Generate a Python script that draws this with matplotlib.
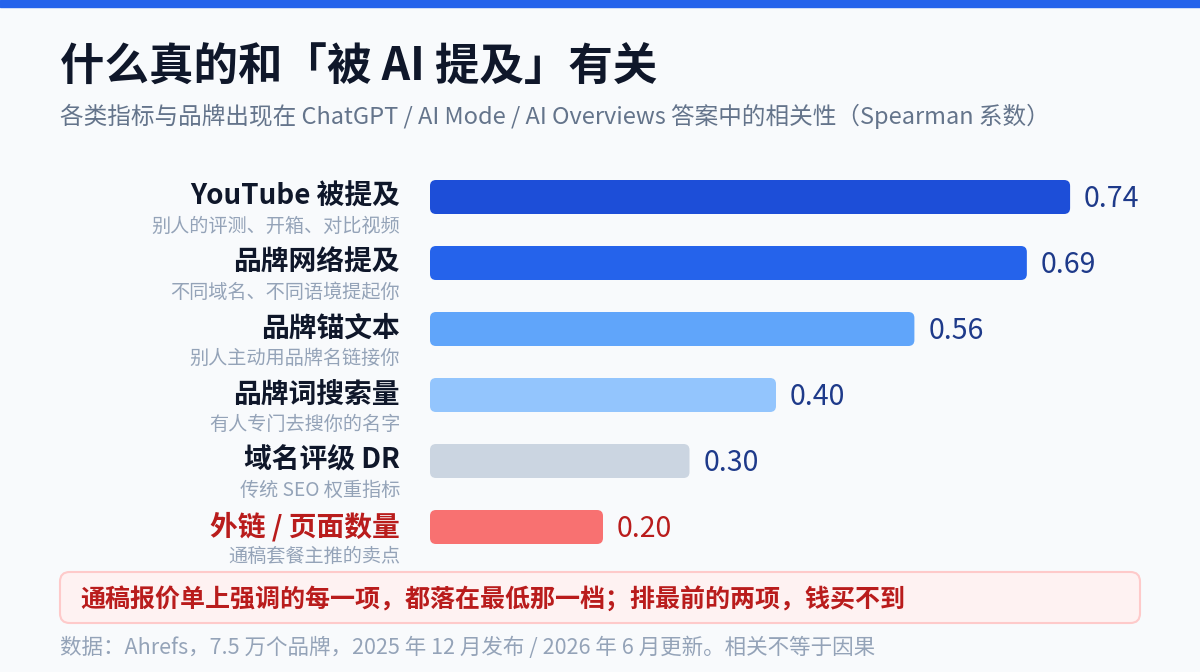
import matplotlib
matplotlib.use("Agg")
import matplotlib.pyplot as plt
from matplotlib.patches import FancyBboxPatch, Rectangle
from matplotlib.transforms import offset_copy

plt.rcParams['font.family'] = ['Noto Sans CJK SC', 'DejaVu Sans']

# data
labels = ["YouTube 被提及", "品牌网络提及", "品牌锚文本", "品牌词搜索量", "域名评级 DR", "外链 / 页面数量"]
notes = ["别人的评测、开箱、对比视频", "不同域名、不同语境提起你", "别人主动用品牌名链接你",
         "有人专门去搜你的名字", "传统 SEO 权重指标", "通稿套餐主推的卖点"]
values = [0.74, 0.69, 0.56, 0.40, 0.30, 0.20]
colors = ["#1d4ed8", "#2563eb", "#60a5fa", "#93c5fd", "#cbd5e1", "#f87171"]

title = "什么真的和「被 AI 提及」有关"
subtitle = "各类指标与品牌出现在 ChatGPT / AI Mode / AI Overviews 答案中的相关性（Spearman 系数）"
callout = "通稿报价单上强调的每一项，都落在最低那一档；排最前的两项，钱买不到"
footer = "数据：Ahrefs，7.5 万个品牌，2025 年 12 月发布 / 2026 年 6 月更新。相关不等于因果"

W, H = 1200, 672
bg = "#f8fafc"
fig = plt.figure(figsize=(W / 100, H / 100), dpi=100, facecolor=bg)

# top stripe
fig.patches.append(Rectangle((0, 1 - 7 / H), 1, 7 / H, transform=fig.transFigure,
                             color="#2563eb", zorder=5))

fig.text(60 / W, 1 - 68 / H, title, fontsize=32, weight="bold", color="#0f172a", va="center")
fig.text(60 / W, 1 - 116 / H, subtitle, fontsize=17, color="#64748b", va="center")

# bar axes: x 0 at 430px, 865px per unit; rows 66px from y=164px
px_per_unit = 865
row = 66
ax_left, ax_top = 430, 164
ax_w = 0.8 * px_per_unit
ax = fig.add_axes([ax_left / W, 1 - (ax_top + row * 6) / H, ax_w / W, row * 6 / H])
ax.set_xlim(0, 0.8)
ax.set_ylim(5.5, -0.5)
ax.axis("off")

bar_h = 34 / row
rad = 6 / px_per_unit
bars = ax.barh(range(len(values)), values, height=bar_h, color=colors)
for b, c in zip(bars, colors):
    b.set_visible(False)
    ax.add_patch(FancyBboxPatch((b.get_x(), b.get_y()), b.get_width(), b.get_height(),
                                boxstyle=f"round,pad=0,rounding_size={rad}",
                                mutation_aspect=px_per_unit / row,
                                facecolor=c, edgecolor="none"))

main_tr = offset_copy(ax.transData, fig=fig, x=-30, y=0, units="dots")
note_tr = offset_copy(ax.transData, fig=fig, x=-30, y=-29, units="dots")
val_tr = offset_copy(ax.transData, fig=fig, x=14, y=-2, units="dots")
for i, (lab, note, v) in enumerate(zip(labels, notes, values)):
    last = i == len(values) - 1
    ax.text(0, i, lab, transform=main_tr, ha="right", va="center", fontsize=20,
            weight="semibold", color="#b91c1c" if last else "#0f172a")
    ax.text(0, i, note, transform=note_tr, ha="right", va="center", fontsize=13.8,
            color="#94a3b8")
    ax.text(v, i, f"{v:.2f}", transform=val_tr, ha="left", va="center", fontsize=20.5,
            weight="medium", color="#b91c1c" if last else "#1e3a8a")

# callout box
box = FancyBboxPatch((60 / W, 1 - 623 / H), 1080 / W, 51 / H, transform=fig.transFigure,
                     boxstyle="round,pad=0,rounding_size=0.008",
                     mutation_aspect=W / H,
                     facecolor="#fef2f2", edgecolor="#fecaca", linewidth=1.5)
fig.patches.append(box)
fig.text(80 / W, 1 - 599 / H, callout, fontsize=18, weight="bold", color="#b91c1c", va="center")

fig.text(60 / W, 1 - 648 / H, footer, fontsize=15.5, color="#94a3b8", va="center")

fig.savefig("out.png", dpi=100, facecolor=bg)
